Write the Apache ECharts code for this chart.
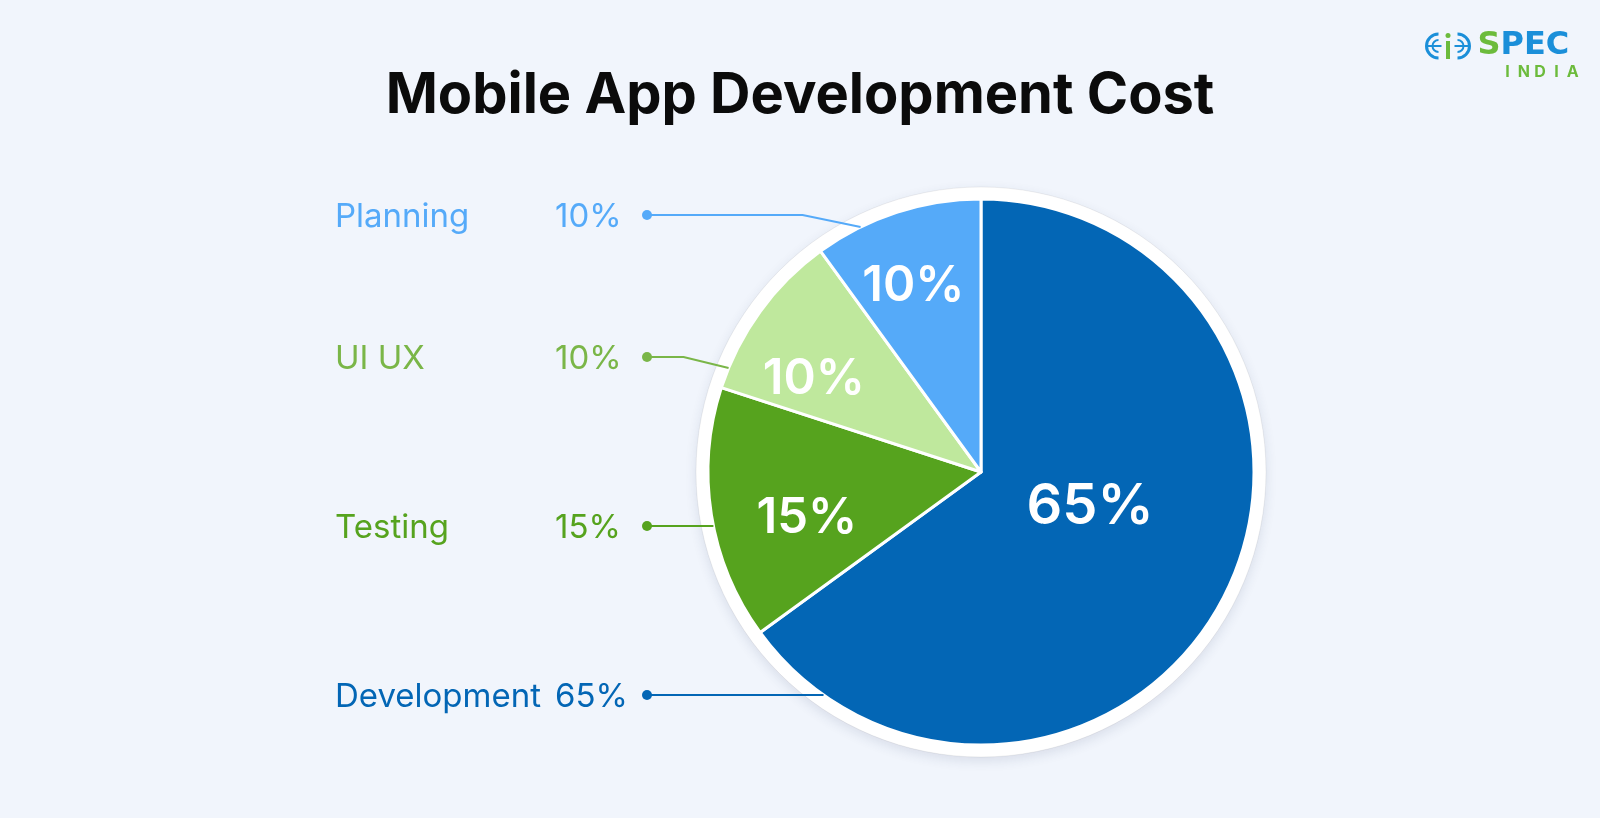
<!DOCTYPE html>
<html>
<head>
<meta charset="utf-8">
<title>Mobile App Development Cost</title>
<script src="https://cdn.jsdelivr.net/npm/echarts@6.0.0/dist/echarts.min.js"></script>
<style>
  html, body { margin: 0; padding: 0; background: #f1f5fc; }
  #chart { width: 1600px; height: 818px; }
</style>
</head>
<body>
<div id="chart"></div>
<script>
// data (clockwise from 12 o'clock)
const stages = ['Development', 'Testing', 'UI UX', 'Planning']
const shares = [65, 15, 10, 10]

// colours
const sliceColors = ['#0366b5', '#56a31e', '#bfe89d', '#55aaf9']
const labelColors = ['#0366b5', '#56a31e', '#7ab648', '#55aaf9']

// layout
const FONT = "Inter, 'Noto Sans', sans-serif"
const CX = 981, CY = 472, R = 273
const ROW_Y = [695, 526, 357, 215]      // left legend rows
const NAME_X = 335, NAME_W = 220, PCT_W = 87
const BEND = [[0, 0], [0, 0], [45, 11], [58, 12]]   // knee dx, drop to pie edge
const INNER = [[0.42, 9], [0.66, 6], [0.70, 7], [0.725, 2]]  // radius frac, angle shift

const total = shares.reduce((a, b) => a + b, 0)
function midAngle(i) {
  let before = 0
  for (let k = 0; k < i; k++) before += shares[k]
  return 90 - 360 * (before + shares[i] / 2) / total
}

const chart = echarts.init(document.getElementById('chart'))

const rich = {}
stages.forEach((s, i) => {
  rich['n' + i] = { color: labelColors[i], fontSize: 33, fontFamily: FONT, width: NAME_W, padding: [5, 0, 0, 0] }
  rich['p' + i] = { color: labelColors[i], fontSize: 33, fontFamily: FONT, width: PCT_W, padding: [5, 0, 0, 0] }
  rich['d' + i] = { backgroundColor: labelColors[i], width: 10, height: 10, borderRadius: 5 }
})

// logo letters
const logoIndia = 'INDIA'.split('').map((ch, k) => ({
  type: 'text', x: 82 + k * 16.3, y: 31,
  style: { text: ch, fill: '#6cbb3c', font: '700 16px ' + FONT, align: 'center' }
}))

const option = {
  backgroundColor: '#f1f5fc',
  title: {
    text: 'Mobile App Development Cost',
    left: 'center',
    top: 63,
    textStyle: { fontFamily: FONT, fontSize: 56, fontWeight: 700, color: '#0b0b0b' }
  },
  graphic: [
    {
      type: 'circle',
      z: 0,
      shape: { cx: CX, cy: CY, r: 285 },
      style: {
        fill: '#ffffff',
        stroke: 'rgba(0,0,0,0.06)',
        lineWidth: 1,
        shadowBlur: 12,
        shadowOffsetY: 4,
        shadowColor: 'rgba(40,60,100,0.12)'
      }
    },
    // logo
    {
      type: 'group',
      left: 1424,
      top: 30,
      children: [
        { type: 'arc', shape: { cx: 13, cy: 13, r: 12, startAngle: Math.PI / 2, endAngle: Math.PI * 1.5 }, style: { fill: 'none', stroke: '#1b8fd9', lineWidth: 3 } },
        { type: 'arc', shape: { cx: 32, cy: 13, r: 12, startAngle: -Math.PI / 2, endAngle: Math.PI / 2 }, style: { fill: 'none', stroke: '#1b8fd9', lineWidth: 3 } },
        { type: 'arc', shape: { cx: 13, cy: 13, r: 6, startAngle: Math.PI / 2, endAngle: Math.PI * 1.5 }, style: { fill: 'none', stroke: '#1b8fd9', lineWidth: 2 } },
        { type: 'arc', shape: { cx: 32, cy: 13, r: 6, startAngle: -Math.PI / 2, endAngle: Math.PI / 2 }, style: { fill: 'none', stroke: '#1b8fd9', lineWidth: 2 } },
        { type: 'line', shape: { x1: 1, y1: 13, x2: 16, y2: 13 }, style: { stroke: '#1b8fd9', lineWidth: 2 } },
        { type: 'line', shape: { x1: 29, y1: 13, x2: 44, y2: 13 }, style: { stroke: '#1b8fd9', lineWidth: 2 } },
        { type: 'rect', shape: { x: 20.5, y: 8, width: 4, height: 18 }, style: { fill: '#6cbb3c' } },
        { type: 'circle', shape: { cx: 22.5, cy: 2.5, r: 2.5 }, style: { fill: '#6cbb3c' } },
        {
          type: 'text', x: 52, y: -3,
          style: { text: 'S', fill: '#6cbb3c', font: "bold 32px 'DejaVu Sans'" }
        },
        {
          type: 'text', x: 75, y: -3,
          style: { text: 'PEC', fill: '#1b8fd9', font: "bold 32px 'DejaVu Sans'" }
        }
      ].concat(logoIndia)
    }
  ],
  series: [
    {
      // slices with white percentages inside
      type: 'pie',
      z: 2,
      center: [CX, CY],
      radius: [0, R],
      startAngle: 90,
      clockwise: true,
      silent: true,
      itemStyle: { borderColor: '#ffffff', borderWidth: 3 },
      label: {
        show: true,
        position: 'inside',
        color: '#ffffff',
        fontFamily: FONT,
        fontWeight: 600,
        formatter: p => p.value + '%'
      },
      labelLine: { show: false },
      labelLayout: p => {
        const i = p.dataIndex
        const a = (midAngle(i) + INNER[i][1]) * Math.PI / 180
        const rr = R * INNER[i][0]
        return {
          x: CX + rr * Math.cos(a),
          y: CY - rr * Math.sin(a),
          align: 'center',
          verticalAlign: 'middle'
        }
      },
      data: stages.map((s, i) => ({
        name: s,
        value: shares[i],
        itemStyle: { color: sliceColors[i] },
        label: { fontSize: i === 0 ? 56 : 49 }
      }))
    },
    {
      // legend-like labels on the left with leader lines
      type: 'pie',
      z: 3,
      center: [CX, CY],
      radius: [0, R],
      startAngle: 90,
      clockwise: true,
      silent: true,
      itemStyle: { color: 'rgba(0,0,0,0)', borderWidth: 0 },
      label: {
        show: true,
        position: 'outside',
        formatter: p => `{n${p.dataIndex}|${p.name}}{p${p.dataIndex}|${p.value}%}{d${p.dataIndex}|}`,
        rich: rich
      },
      labelLine: { show: true, length: 10, length2: 10, lineStyle: { width: 2 } },
      labelLayout: p => {
        const i = p.dataIndex
        const y = ROW_Y[i]
        const ey = y + BEND[i][1]
        const ex = CX - Math.sqrt(R * R - (ey - CY) * (ey - CY))
        const dotX = NAME_X + NAME_W + PCT_W + 5
        return {
          x: NAME_X,
          y: y,
          align: 'left',
          verticalAlign: 'middle',
          labelLinePoints: [[ex, ey], [ex - BEND[i][0], y], [dotX, y]]
        }
      },
      data: stages.map((s, i) => ({
        name: s,
        value: shares[i],
        labelLine: { lineStyle: { color: labelColors[i] } }
      }))
    }
  ]
}

chart.setOption(option)
</script>
</body>
</html>
